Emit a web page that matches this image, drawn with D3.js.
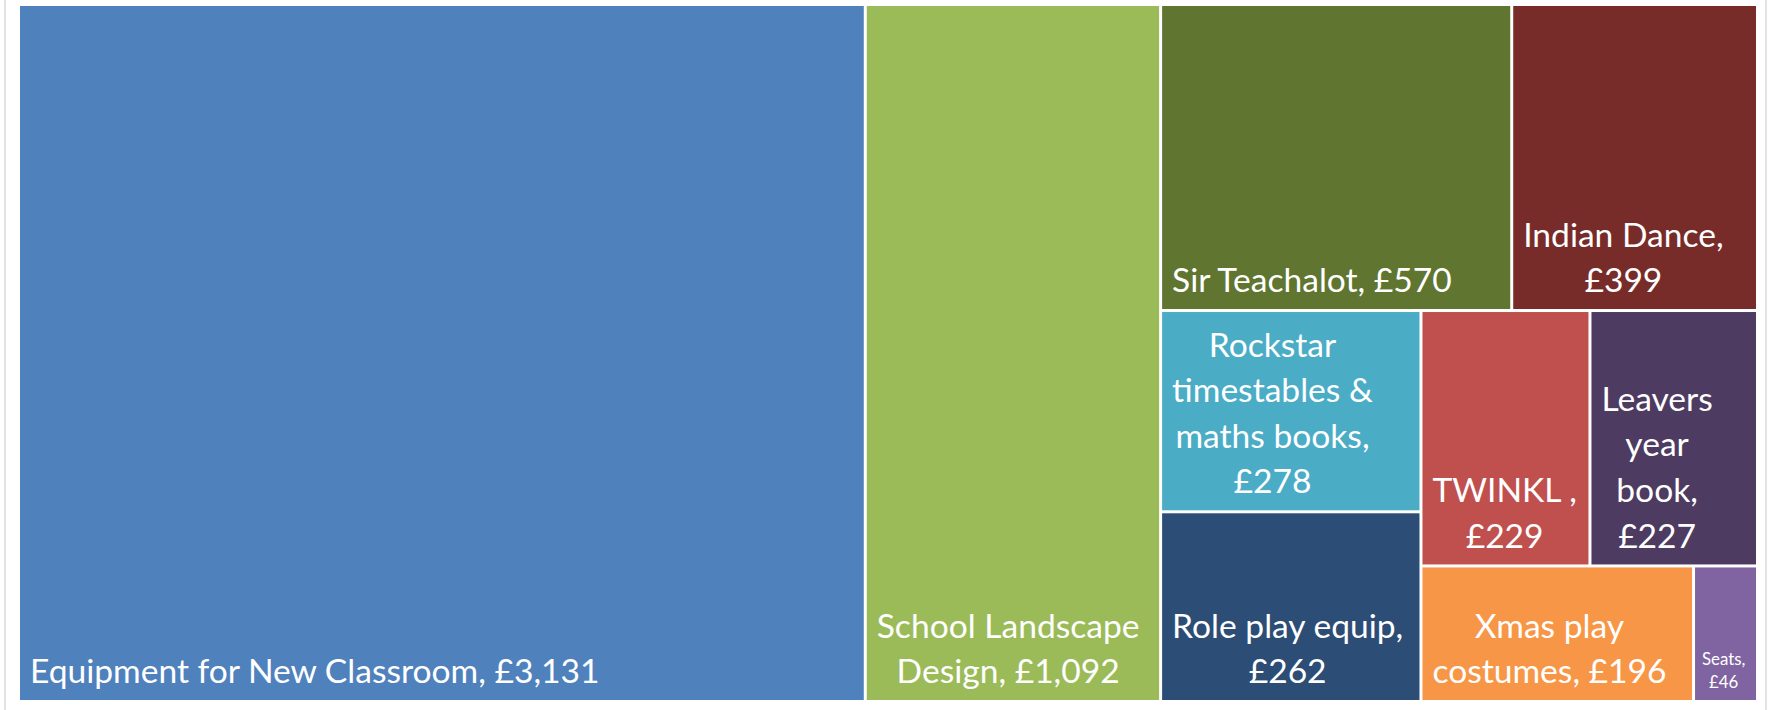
<!DOCTYPE html>
<html>
<head>
<meta charset="utf-8">
<script src="https://cdn.jsdelivr.net/npm/d3@7"></script>
<style>
  html, body { margin: 0; padding: 0; background: #ffffff; }
  svg { display: block; }
</style>
</head>
<body>
<svg id="chart" width="1771" height="710"></svg>
<script>
// Spending per project (GBP)
const categories = [
  "Equipment for New Classroom", "School Landscape Design", "Sir Teachalot",
  "Indian Dance", "Rockstar timestables & maths books", "Role play equip",
  "TWINKL ", "Leavers year book", "Xmas play costumes", "Seats"
];
const values = [3131, 1092, 570, 399, 278, 262, 229, 227, 196, 46];
const colors = [
  "#4f81bd", "#9bbb59", "#5f7530", "#772c2a", "#4bacc6",
  "#2c4d75", "#c0504d", "#4d3b62", "#f79646", "#8064a2"
];
// how many items go into each strip of the layout
const stripSizes = [1, 1, 2, 2, 2, 1, 1];

const width = 1771, height = 710;
const margin = { top: 6, right: 15, bottom: 10, left: 20 };
const innerW = width - margin.left - margin.right;
const innerH = height - margin.top - margin.bottom;

const fontFamily = "Lato, 'Open Sans', sans-serif";
// label metrics follow a 28pt label (14pt when a word won't fit),
// font size scaled so Lato matches the original text widths
const baseSize = 37.33;
const smallSize = 18.67;
const fontScale = 0.9;

const svg = d3.select("#chart");

// frame lines either side
svg.append("line").attr("x1", 5).attr("x2", 5).attr("y1", 0).attr("y2", height)
  .attr("stroke", "#d9d9d9").attr("stroke-width", 1.5);
svg.append("line").attr("x1", 1766).attr("x2", 1766).attr("y1", 0).attr("y2", height)
  .attr("stroke", "#d9d9d9").attr("stroke-width", 1.5);

// strip tiling: each strip runs across the short side of what is left
function stripTile(parent, x0, y0, x1, y1) {
  const nodes = parent.children;
  let total = parent.value, i = 0;
  stripSizes.forEach(n => {
    const row = { children: nodes.slice(i, i + n) };
    row.value = d3.sum(row.children, d => d.value);
    const dx = x1 - x0, dy = y1 - y0;
    if (dx < dy) {
      const yb = y0 + dy * row.value / total;
      d3.treemapDice(row, x0, y0, x1, yb);
      y0 = yb;
    } else {
      const xb = x0 + dx * row.value / total;
      d3.treemapSlice(row, x0, y0, xb, y1);
      x0 = xb;
    }
    total -= row.value;
    i += n;
  });
}

const data = { children: categories.map((c, i) => ({ name: c, value: values[i], color: colors[i] })) };
const root = d3.hierarchy(data).sum(d => d.value || 0);

d3.treemap()
  .size([innerW, innerH])
  .paddingInner(3)
  .tile(stripTile)(root);

const g = svg.append("g").attr("transform", `translate(${margin.left},${margin.top})`);

const cell = g.selectAll("g.cell")
  .data(root.leaves())
  .join("g")
  .attr("class", "cell");

cell.append("rect")
  .attr("x", d => d.x0)
  .attr("y", d => d.y0)
  .attr("width", d => d.x1 - d.x0)
  .attr("height", d => d.y1 - d.y0)
  .attr("fill", d => d.data.color);

const fmt = d3.format(",");

// measuring helper
const probe = svg.append("text").style("font-family", fontFamily).attr("visibility", "hidden");
function textW(s, size) {
  probe.style("font-size", size + "px").text(s);
  return probe.node().getComputedTextLength();
}

function wrap(words, size, maxW) {
  const lines = [];
  let line = "";
  words.forEach(w => {
    const test = line ? line + " " + w : w;
    if (line && textW(test, size) > maxW) { lines.push(line); line = w; }
    else line = test;
  });
  if (line) lines.push(line);
  return lines;
}

// labels sit at the bottom left, wrapped lines centred on each other
cell.each(function(d) {
  const label = d.data.name + ", £" + fmt(d.value);
  const words = label.split(/\s+/).filter(Boolean);
  const maxW = (d.x1 - d.x0) - 20;
  let calSize = baseSize;
  if (d3.max(words, s => textW(s, baseSize * fontScale)) > maxW) calSize = smallSize;
  const size = calSize * fontScale;
  const lines = wrap(words, size, maxW);
  const lineH = 1.22 * calSize;
  const inset = 4 + 0.16 * calSize;
  const blockW = d3.max(lines, s => textW(s, size));
  const cx = d.x0 + inset + blockW / 2;
  const lastBase = d.y1 - 7.6 - 0.25 * calSize;
  const t = d3.select(this).append("text")
    .attr("fill", "#ffffff")
    .attr("text-anchor", "middle")
    .style("font-family", fontFamily)
    .style("font-size", size + "px");
  lines.forEach((s, i) => {
    t.append("tspan")
      .attr("x", cx)
      .attr("y", lastBase - (lines.length - 1 - i) * lineH)
      .text(s);
  });
});
probe.remove();
</script>
</body>
</html>
